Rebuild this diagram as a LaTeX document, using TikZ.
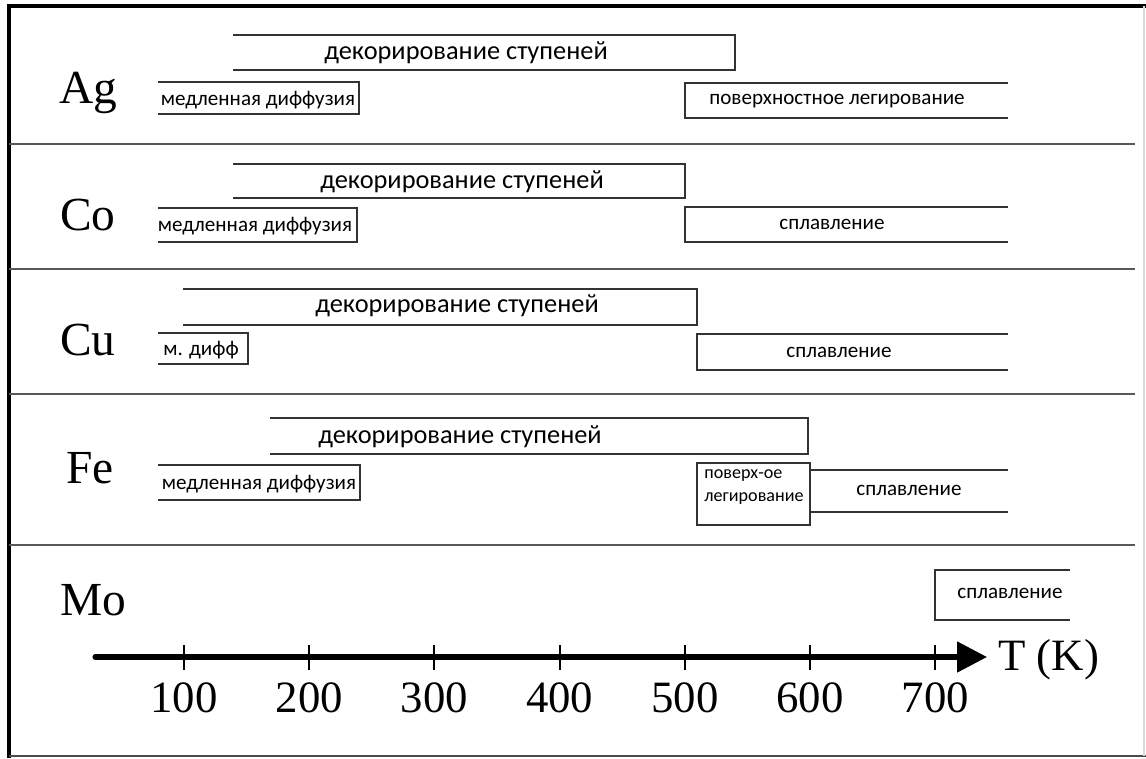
\documentclass[tikz,border=0pt]{standalone}
\usepackage{fontspec}
\setmainfont{Liberation Serif}
\newfontfamily\boxfont{Carlito}
\usetikzlibrary{arrows.meta}
\tikzset{
  elem label/.style={font=\fontsize{27}{27}\selectfont, inner sep=0pt},
  tick label/.style={font=\fontsize{25.5}{25.5}\selectfont, inner sep=0pt},
  big text/.style={font=\boxfont\fontsize{15}{16}\selectfont, inner sep=0pt},
  small text/.style={font=\boxfont\fontsize{12}{13}\selectfont, inner sep=0pt},
  tiny text/.style={font=\boxfont\fontsize{10.3}{13}\selectfont, inner sep=0pt, align=left},
  band/.style={draw=black!80, line width=1.1pt},
  row line/.style={draw=black!65, line width=1.1pt},
}

\begin{document}
\begin{tikzpicture}[x=0.02cm, y=-0.02cm]
        \useasboundingbox (0,0) rectangle (1146,758);
        % Frame
        \draw[line width=2.4pt] (9,758) -- (9,6) -- (1146,6);
        \draw[black!70, line width=0.8pt] (9,756) -- (1146,756);
        \draw[black!15, line width=0.6pt] (1144,6) -- (1144,756);
        \foreach \y in {144,269,394,545}
            \draw[row line] (9,\y) -- (1135,\y);
        % Element labels
        \node[elem label] (ag) at (88,93) {Ag};
        \node[elem label] (co) at (88,215) {Co};
        \node[elem label] (cu) at (88,340) {Cu};
        \node[elem label] (fe) at (90,468) {Fe};
        \node[elem label] (mo) at (93,600) {Mo};
        % Ag
        \draw[band] (233,35) -- (735,35) -- (735,70) -- (233,70);
        \node[big text] (ag dec) at (466,53) {декорирование ступеней};
        \draw[band] (158,82) -- (359,82) -- (359,114) -- (158,114);
        \node[small text] (ag slow) at (258,100) {медленная диффузия};
        \draw[band] (1008,83) -- (685,83) -- (685,118) -- (1008,118);
        \node[small text] (ag surf) at (837,101) {поверхностное легирование};
        % Co
        \draw[band] (233,164) -- (685,164) -- (685,198) -- (233,198);
        \node[big text] (co dec) at (462,182) {декорирование ступеней};
        \draw[band] (158,208) -- (357,208) -- (357,242) -- (158,242);
        \node[small text] (co slow) at (255,226) {медленная диффузия};
        \draw[band] (1008,207) -- (685,207) -- (685,242) -- (1008,242);
        \node[small text] (co alloy) at (832,224) {сплавление};
        % Cu
        \draw[band] (183,289) -- (697,289) -- (697,325) -- (183,325);
        \node[big text] (cu dec) at (457,306) {декорирование ступеней};
        \draw[band] (158,333) -- (248,333) -- (248,364) -- (158,364);
        \node[small text] (cu slow) at (201,350) {м. дифф};
        \draw[band] (1008,334) -- (697,334) -- (697,370) -- (1008,370);
        \node[small text] (cu alloy) at (839,352) {сплавление};
        % Fe
        \draw[band] (270,418) -- (808,418) -- (808,454) -- (270,454);
        \node[big text] (fe dec) at (460,437) {декорирование ступеней};
        \draw[band] (158,465) -- (360,465) -- (360,500) -- (158,500);
        \node[small text] (fe slow) at (259,484) {медленная диффузия};
        \draw[band] (697,463) rectangle (810,525);
        \node[tiny text] (fe surf) at (754,487) {поверх-ое\\легирование};
        \draw[band] (810,470) -- (1008,470);
        \draw[band] (810,512) -- (1008,512);
        \node[small text] (fe alloy) at (909,490) {сплавление};
        % Mo
        \draw[band] (1070,570) -- (935,570) -- (935,620) -- (1070,620);
        \node[small text] (mo alloy) at (1010,593) {сплавление};
        % Axis
        \coordinate (axis start) at (95,657);
        \coordinate (axis end) at (987,657);
        \draw[line width=2.9pt, line cap=round, -{Triangle[length=17pt, width=17pt]}] (axis start) -- (axis end);
        \foreach \t [count=\i] in {100,200,...,700} {
            \draw[line width=1.2pt] ({184+(\i-1)*125.2},645) -- ({184+(\i-1)*125.2},670);
            \node[tick label] (tick \t) at ({184+(\i-1)*125.2},698) {\t};
        }
        \node[tick label, anchor=west] (axis label) at (998,660) {T (K)};
\end{tikzpicture}
\end{document}
